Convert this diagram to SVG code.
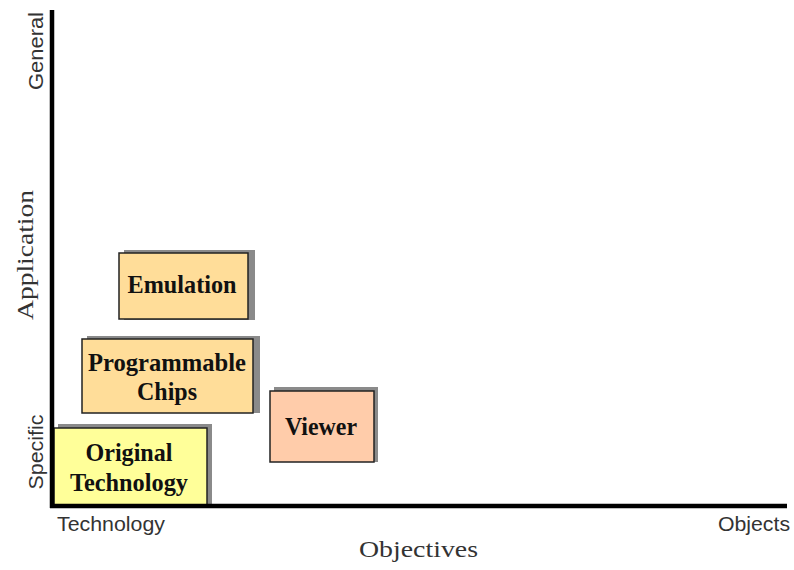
<svg xmlns="http://www.w3.org/2000/svg" width="794" height="570" viewBox="0 0 794 570">
<style>
.box{stroke:#222;stroke-width:1.5}
.shadow{fill:#8a8a8a}
.lbl{font-family:"Liberation Serif",serif;font-weight:bold;font-size:25px;fill:#111;text-anchor:middle}
.sans{font-family:"Liberation Sans",sans-serif;font-size:20.5px;fill:#333}
.serif{font-family:"Liberation Serif",serif;font-size:23px;fill:#333}
</style>
<rect width="794" height="570" fill="#fff"/>
<g id="emulation">
<rect class="shadow" x="124" y="250" width="131" height="70"/>
<rect class="box" x="119" y="253" width="129" height="66" fill="#FFDD99"/>
<text class="lbl" x="182" y="293" textLength="109" lengthAdjust="spacingAndGlyphs">Emulation</text>
</g>
<g id="programmable-chips">
<rect class="shadow" x="87" y="336" width="173" height="77"/>
<rect class="box" x="82" y="339" width="171" height="74" fill="#FFDD99"/>
<text class="lbl" x="167" y="371" textLength="158" lengthAdjust="spacingAndGlyphs">Programmable</text>
<text class="lbl" x="167" y="400" textLength="60" lengthAdjust="spacingAndGlyphs">Chips</text>
</g>
<g id="viewer">
<rect class="shadow" x="274" y="387" width="104" height="75"/>
<rect class="box" x="270" y="391" width="104" height="71" fill="#FFCCAA"/>
<text class="lbl" x="321" y="435" textLength="72" lengthAdjust="spacingAndGlyphs">Viewer</text>
</g>
<g id="original-technology">
<rect class="shadow" x="58" y="424" width="154" height="82"/>
<rect class="box" x="54" y="428" width="153" height="78" fill="#FFFF99"/>
<text class="lbl" x="129" y="461" textLength="87" lengthAdjust="spacingAndGlyphs">Original</text>
<text class="lbl" x="129" y="491" textLength="118" lengthAdjust="spacingAndGlyphs">Technology</text>
</g>
<g id="axes">
<line x1="52" y1="10" x2="52" y2="508" stroke="#000" stroke-width="4.5"/>
<line x1="50" y1="506" x2="787" y2="506" stroke="#000" stroke-width="4.5"/>
<text class="sans" transform="translate(43,51) rotate(-90)" text-anchor="middle" textLength="78" lengthAdjust="spacingAndGlyphs">General</text>
<text class="serif" transform="translate(33,255) rotate(-90)" text-anchor="middle" textLength="130" lengthAdjust="spacingAndGlyphs">Application</text>
<text class="sans" transform="translate(43,452) rotate(-90)" text-anchor="middle" textLength="75" lengthAdjust="spacingAndGlyphs">Specific</text>
<text class="sans" x="57" y="531" textLength="108" lengthAdjust="spacingAndGlyphs">Technology</text>
<text class="sans" x="718" y="531" textLength="72" lengthAdjust="spacingAndGlyphs">Objects</text>
<text class="serif" x="359" y="557" textLength="119" lengthAdjust="spacingAndGlyphs">Objectives</text>
</g>
</svg>
